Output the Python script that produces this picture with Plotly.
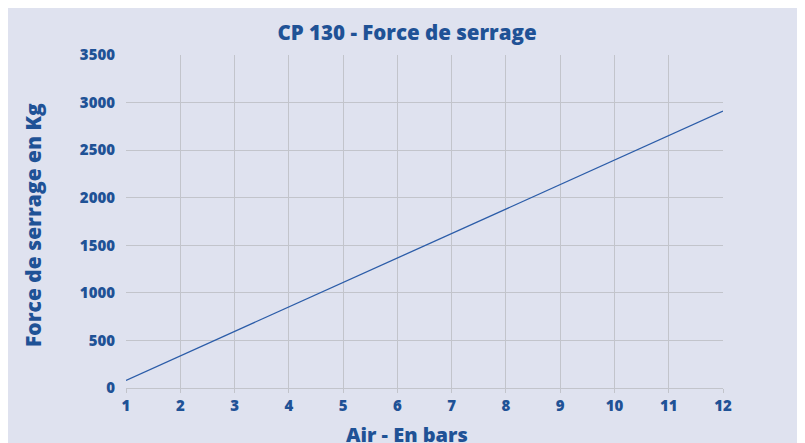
import plotly.graph_objects as go

air_bars = [1, 2, 3, 4, 5, 6, 7, 8, 9, 10, 11, 12]
force_kg = [80, 337, 594, 852, 1109, 1366, 1624, 1881, 2138, 2396, 2653, 2910]
x_ticks = list(range(1, 13))
y_ticks = [0, 500, 1000, 1500, 2000, 2500, 3000, 3500]

BG = "#dfe2ef"
BLUE = "#1f5296"
GRID = "#c2c4cb"
FONT = "Open Sans"
W = 800

fig = go.Figure()
fig.add_trace(go.Scatter(x=air_bars, y=force_kg, mode="lines",
                         line=dict(color="#2b5ca8", width=1.3),
                         showlegend=False, hoverinfo="x+y"))

fig.update_layout(
    width=805, height=443,
    margin=dict(l=118, r=90, t=47, b=63),
    paper_bgcolor=BG, plot_bgcolor=BG,
    font=dict(family=FONT, color=BLUE, weight=W),
    title=dict(text="CP 130 - Force de serrage", x=0.4957, xanchor="center",
               xref="container", y=0.945, yanchor="middle",
               font=dict(size=20.5, color=BLUE, family=FONT, weight=W)),
    xaxis=dict(range=[1, 12], tickvals=x_ticks,
               showgrid=True, gridcolor=GRID, gridwidth=1,
               zeroline=False, showline=True, linecolor=GRID, linewidth=1,
               ticks="outside", ticklen=4, tickcolor=GRID,
               tickfont=dict(size=15, color=BLUE, family=FONT, weight=W)),
    yaxis=dict(range=[0, 3500], tickvals=y_ticks,
               showgrid=True, gridcolor=GRID, gridwidth=1,
               zeroline=False, showline=False,
               ticks="", ticklabelstandoff=10,
               tickfont=dict(size=15, color=BLUE, family=FONT, weight=W)),
)

fig.add_annotation(text="Force de serrage en Kg", xref="paper", yref="paper",
                   x=-0.1558, y=0.4895, xanchor="center", yanchor="middle",
                   textangle=-90, showarrow=False,
                   font=dict(size=21, color=BLUE, family=FONT, weight=W))

fig.add_annotation(text="Air - En bars", xref="paper", yref="paper",
                   x=0.4707, y=-0.141, xanchor="center", yanchor="middle",
                   showarrow=False, font=dict(size=20, color=BLUE, family=FONT, weight=W))

fig.write_html("out.html")
